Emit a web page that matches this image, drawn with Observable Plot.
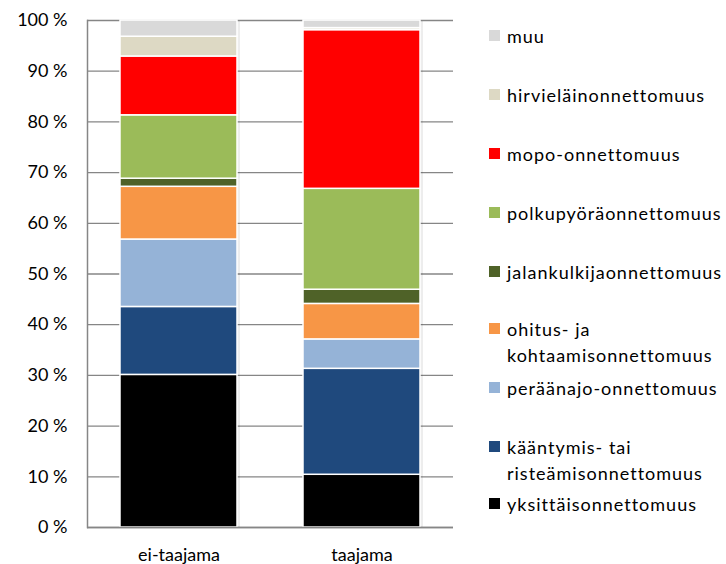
<!DOCTYPE html>
<html>
<head>
<meta charset="utf-8">
<script src="https://cdn.jsdelivr.net/npm/d3@7"></script>
<script src="https://cdn.jsdelivr.net/npm/@observablehq/plot@0.6"></script>
<style>
  html, body { margin: 0; padding: 0; background: #fff; }
  #wrap { position: relative; width: 726px; height: 564px; overflow: hidden; font-family: Lato, "Open Sans", sans-serif; }
  #legend { position: absolute; left: 489px; top: 0; width: 237px; height: 564px; }
  .item { position: absolute; left: 0; display: flex; align-items: flex-start; white-space: nowrap; font-size: 18px; letter-spacing: 1px; color: #000; line-height: 26px; }
  .sw { width: 11px; height: 11px; margin-top: 7px; margin-right: 7px; flex: none; }
</style>
</head>
<body>
<div id="wrap"></div>
<script>
const areas = ["ei-taajama", "taajama"];
const series = [
  "yksittäisonnettomuus",
  "kääntymis- tai risteämisonnettomuus",
  "peräänajo-onnettomuus",
  "ohitus- ja kohtaamisonnettomuus",
  "jalankulkijaonnettomuus",
  "polkupyöräonnettomuus",
  "mopo-onnettomuus",
  "hirvieläinonnettomuus",
  "muu"
];
const legendLines = [
  ["yksittäisonnettomuus"],
  ["kääntymis- tai", "risteämisonnettomuus"],
  ["peräänajo-onnettomuus"],
  ["ohitus- ja", "kohtaamisonnettomuus"],
  ["jalankulkijaonnettomuus"],
  ["polkupyöräonnettomuus"],
  ["mopo-onnettomuus"],
  ["hirvieläinonnettomuus"],
  ["muu"]
];
const colors = ["#000000", "#1F497D", "#95B3D7", "#F79646", "#4F6228", "#9BBB59", "#FF0000", "#DDD9C4", "#D9D9D9"];
const valuesEiTaajama = [30.1, 13.4, 13.3, 10.4, 1.6, 12.5, 11.6, 3.9, 3.2];
const valuesTaajama   = [10.4, 20.9, 5.8, 7.0, 2.8, 19.9, 31.3, 0.4, 1.5];
const yTicks = [0, 10, 20, 30, 40, 50, 60, 70, 80, 90, 100];

const data = [];
series.forEach((s, i) => {
  data.push({area: areas[0], type: s, value: valuesEiTaajama[i]});
  data.push({area: areas[1], type: s, value: valuesTaajama[i]});
});

const chart = Plot.plot({
  width: 726,
  height: 564,
  marginLeft: 87,
  marginRight: 273,
  marginTop: 20,
  marginBottom: 37,
  style: {fontFamily: "Lato, 'Open Sans', sans-serif", fontSize: "18px", color: "#000", background: "#fff"},
  x: {domain: areas, paddingInner: 0.36, paddingOuter: 0.18, label: null},
  y: {domain: [0, 100], label: null},
  color: {domain: series, range: colors},
  marks: [
    Plot.ruleY(yTicks, {stroke: "#868686", strokeWidth: 1.3}),
    // soft shadow behind the stacked bars
    Plot.barY(data, {x: "area", y: "value", z: "type", order: series, fill: "#000", fillOpacity: 0.07, dx: 3, dy: 1}),
    Plot.barY(data, {x: "area", y: "value", fill: "type", order: series, stroke: "#fff", strokeWidth: 1.5, inset: 0}),
    Plot.frame({anchor: "left", stroke: "#868686", strokeWidth: 1.5}),
    Plot.ruleY([0], {stroke: "#868686", strokeWidth: 1.5}),
    Plot.axisY({ticks: yTicks, tickSize: 0, tickPadding: 20, tickFormat: d => d + " %", label: null, fontSize: 18, style: {letterSpacing: "0.5px"}}),
    Plot.axisX({tickSize: 0, tickPadding: 21, label: null, fontSize: 18, style: {letterSpacing: "0.9px"}})
  ]
});

const wrap = document.getElementById("wrap");
wrap.appendChild(chart);

// legend (Excel-style, top to bottom = reverse stacking order)
const legendTops = [491, 434, 375, 316, 259, 200, 141, 82, 23];
const legend = document.createElement("div");
legend.id = "legend";
series.forEach((s, i) => {
  const it = document.createElement("div");
  it.className = "item";
  it.style.top = legendTops[i] + "px";
  const sw = document.createElement("div");
  sw.className = "sw";
  sw.style.background = colors[i];
  const tx = document.createElement("div");
  tx.innerHTML = legendLines[i].join("<br>");
  it.appendChild(sw);
  it.appendChild(tx);
  legend.appendChild(it);
});
wrap.appendChild(legend);
</script>
</body>
</html>
